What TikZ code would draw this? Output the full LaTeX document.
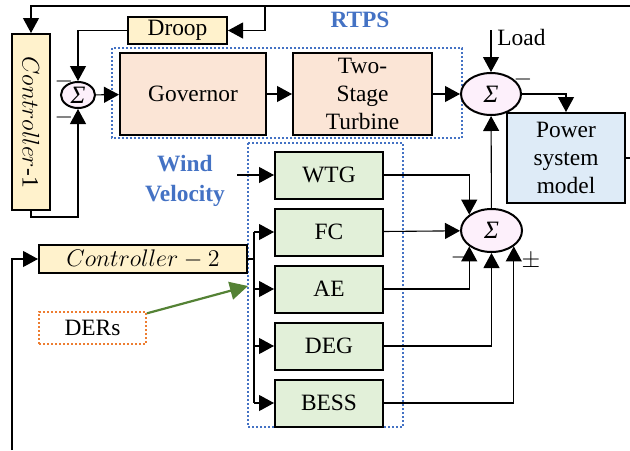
\documentclass[tikz,border=0pt]{standalone}
\usepackage{graphicx}
\usepackage{fontspec}
\setmainfont{Liberation Serif}
\usetikzlibrary{positioning,arrows.meta,shapes.geometric,calc}
\definecolor{ctrlY}{HTML}{FFF2CC}
\definecolor{genP}{HTML}{FBE5D6}
\definecolor{srcG}{HTML}{E2F0D9}
\definecolor{plantB}{HTML}{DEEBF7}
\definecolor{sumP}{HTML}{FDF0FB}
\definecolor{grpB}{HTML}{4472C4}
\definecolor{derO}{HTML}{ED7D31}
\definecolor{derG}{HTML}{548235}
\tikzset{
  blk/.style={draw,line width=1pt,inner sep=0pt,align=center,font=\fontsize{11.7}{14.2}\selectfont},
  ctrl/.style={blk,fill=ctrlY},
  gen/.style={blk,fill=genP,minimum width=73pt,minimum height=41pt},
  src/.style={blk,fill=srcG,minimum width=54pt,minimum height=23.5pt},
  plant/.style={blk,fill=plantB,minimum width=59pt,minimum height=45pt},
  sumn/.style={ellipse,draw,line width=1pt,fill=sumP,inner sep=0pt,font=\fontsize{12.5}{14}\selectfont\itshape},
  sig/.style={-{Triangle[length=7.5pt,width=8pt]},line width=0.55pt},
  wire/.style={line width=0.55pt},
  grp/.style={draw=grpB,line width=1pt,dash pattern=on 1pt off 1pt},
  lbl/.style={text=grpB,font=\fontsize{11.7}{15}\selectfont\bfseries,align=center},
  sgn/.style={font=\fontsize{11.7}{14}\selectfont,inner sep=0pt},
}
\begin{document}
\begin{tikzpicture}[x=0.5pt,y=-0.5pt]
  \useasboundingbox (0,0) rectangle (630,450);
  % RTPS loop
  \draw[grp] (112,48) rectangle (462,138);
  \node[lbl] (rtps) at (360,20) {RTPS};
  \node[ctrl,minimum width=19pt,minimum height=88pt] (c1) at (31,122) {\rotatebox{-90}{$Controller$-1}};
  \node[ctrl,minimum width=49.5pt,minimum height=13.5pt] (droop) at (177.5,30.5) {Droop};
  \node[sumn,minimum width=17pt,minimum height=13pt] (s1) at (78,95) {Σ};
  \node[gen] (gov) at (193,94) {Governor};
  \node[gen,minimum width=69.5pt] (tur) at (362.5,94) {Two-\\Stage\\Turbine};
  \node[sumn,minimum width=30pt,minimum height=21pt] (s2) at (491,94) {Σ};
  \node[plant] (psm) at (566,158) {Power\\system\\model};
  \node[sgn] (m1) at (64,81) {$-$};
  \node[sgn] (m2) at (64,117) {$-$};
  \node[sgn] (m3) at (523,79) {$-$};
  \coordinate (top) at (630,6);
  \coordinate (tap) at (265,6);
  \coordinate (ld) at (491,30);
  \coordinate (pout) at (630,158);
  \draw[sig] (top) -| (c1);
  \draw[sig] (tap) |- (droop);
  \draw[sig] (droop) -| (s1);
  \draw[sig] (c1.south) -- ++(0,6) -| (s1.south);
  \draw[sig] (s1) -- (gov);
  \draw[sig] (gov) -- (tur);
  \draw[sig] (tur) -- (s2);
  \draw[sig] (ld) -- (s2);
  \node[sgn,anchor=west] (load) at (497,37) {Load};
  \draw[sig] (s2.east) -| (psm.north);
  \draw[wire] (psm.east) -- (pout);
  % wind / DER side
  \draw[grp] (248,143) rectangle (403,427);
  \node[lbl] (wv) at (185,181) {Wind\\Velocity};
  \node[src] (wtg) at (329,175) {WTG};
  \node[src,below=4pt of wtg] (fc) {FC};
  \node[src,below=4pt of fc] (ae) {AE};
  \node[src,below=4pt of ae] (deg) {DEG};
  \node[src,below=4pt of deg] (bess) {BESS};
  \coordinate (wvin) at (237,175);
  \draw[sig] (wvin) -- (wtg);
  \node[ctrl,minimum width=104pt,minimum height=14pt] (c2) at (143,259) {$Controller-2$};
  \coordinate (c2in) at (12,450);
  \coordinate (bus) at (254,259);
  \draw[sig] (c2in) |- (c2);
  \draw[wire] (c2) -- (bus);
  \draw[wire] (bus |- fc) -- (bus |- bess);
  \foreach \b in {fc,ae,deg,bess}{ \draw[sig] (bus |- \b) -- (\b); }
  \node[blk,draw=derO,dash pattern=on 1pt off 1pt,minimum width=53.5pt,minimum height=16pt] (der) at (92.5,328) {DERs};
  \coordinate (dtip) at (248,286);
  \draw[-{Triangle[length=9pt,width=9pt]},draw=derG,fill=derG,line width=1.1pt] (der) -- (dtip);
  \node[sumn,minimum width=30.5pt,minimum height=21.5pt] (s3) at (491.5,230.5) {Σ};
  \draw[sig] (wtg) -| (s3.north west);
  \draw[sig] (fc) -- (s3);
  \draw[sig] (ae) -| (s3.south west);
  \draw[sig] (deg) -| (s3.south);
  \draw[sig] (bess) -| (s3.south east);
  \draw[sig] (s3) -- (s2);
  \node[sgn] (m4) at (460,257) {$-$};
  \node[sgn] (pm) at (531,261) {$\pm$};
\end{tikzpicture}
\end{document}
